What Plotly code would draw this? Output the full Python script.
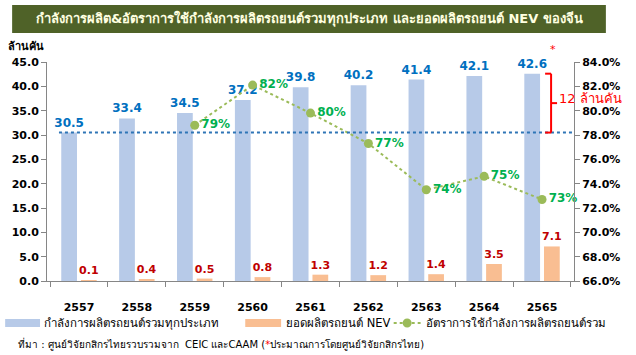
import plotly.graph_objects as go

years = ["2557", "2558", "2559", "2560", "2561", "2562", "2563", "2564", "2565"]
capacity = [30.5, 33.4, 34.5, 37.2, 39.8, 40.2, 41.4, 42.1, 42.6]
nev = [0.1, 0.4, 0.5, 0.8, 1.3, 1.2, 1.4, 3.5, 7.1]
utilization = [None, None, 78.8, 82.1, 79.8, 77.3, 73.5, 74.6, 72.7]

name_cap = "กำลังการผลิตรถยนต์รวมทุกประเภท"
name_nev = "ยอดผลิตรถยนต์ NEV"
name_util = "อัตราการใช้กำลังการผลิตรถยนต์รวม"
title_text = "กำลังการผลิต&อัตราการใช้กำลังการผลิตรถยนต์รวมทุกประเภท และยอดผลิตรถยนต์ NEV ของจีน"
source_text = "ที่มา : ศูนย์วิจัยกสิกรไทยรวบรวมจาก  CEIC และCAAM (<span style='color:#FF0000'>*</span>ประมาณการโดยศูนย์วิจัยกสิกรไทย)"
unit_text = "ล้านคัน"
gap_text = "12 ล้านคัน"

W, H = 636, 355
L, R, T, B = 45, 62, 62, 74
PW, PH = W - L - R, H - T - B

def xp(px):
    return (px - L) / PW

def yp(py):
    return (H - B - py) / PH

FONT = "Tahoma, Verdana, 'DejaVu Sans', 'Noto Sans', sans-serif"
C_BLUE = "#B7CAE8"
C_ORANGE = "#F9BE92"
C_GREEN = "#9BBB59"

fig = go.Figure()
fig.add_trace(go.Bar(
    x=years, y=capacity, name=name_cap,
    marker=dict(color=C_BLUE, line=dict(width=0)),
    text=capacity, texttemplate="%{y:.1f}", textposition="outside", constraintext="none",
    textfont=dict(color="#0070C0", size=12, family=FONT, weight="bold"),
    cliponaxis=False,
))
fig.add_trace(go.Bar(
    x=years, y=nev, name=name_nev,
    marker=dict(color=C_ORANGE, line=dict(width=0)),
    text=nev, texttemplate="%{y:.1f}", textposition="outside", constraintext="none",
    textfont=dict(color="#C00000", size=11, family=FONT, weight="bold"),
    cliponaxis=False,
))
fig.add_trace(go.Scatter(
    x=years, y=utilization, name=name_util, yaxis="y2",
    mode="lines+markers+text",
    line=dict(color=C_GREEN, width=2, dash="dot"),
    marker=dict(color=C_GREEN, size=9),
    texttemplate="%{y:.0f}%", textposition="middle right",
    textfont=dict(color="#00B050", size=12, family=FONT, weight="bold"),
    cliponaxis=False,
))

mid_gap = (capacity[0] + capacity[-1]) / 2
red = dict(color="#FF0000", width=2)
shapes = [
    dict(type="rect", xref="paper", yref="paper", x0=xp(10), x1=xp(606), y0=yp(33), y1=yp(5),
         fillcolor="#4F6228", line=dict(width=0), layer="below"),
    dict(type="line", xref="paper", yref="y", x0=xp(57), x1=1, y0=capacity[0], y1=capacity[0],
         line=dict(color="#2E75B6", width=2, dash="dot")),
    dict(type="line", xref="paper", yref="y", x0=xp(551), x1=xp(551), y0=capacity[0], y1=capacity[-1], line=red),
    dict(type="line", xref="paper", yref="y", x0=xp(545), x1=xp(551), y0=capacity[-1], y1=capacity[-1], line=red),
    dict(type="line", xref="paper", yref="y", x0=xp(545), x1=xp(551), y0=capacity[0], y1=capacity[0], line=red),
    dict(type="line", xref="paper", yref="y", x0=xp(551), x1=xp(557), y0=mid_gap, y1=mid_gap, line=red),
    # custom legend swatches
    dict(type="rect", xref="paper", yref="paper", x0=xp(3), x1=xp(38), y0=yp(327), y1=yp(319),
         fillcolor=C_BLUE, line=dict(width=0)),
    dict(type="rect", xref="paper", yref="paper", x0=xp(244), x1=xp(280), y0=yp(327), y1=yp(319),
         fillcolor=C_ORANGE, line=dict(width=0)),
    dict(type="line", xref="paper", yref="paper", x0=xp(393), x1=xp(420), y0=yp(323), y1=yp(323),
         line=dict(color=C_GREEN, width=2, dash="dot")),
    dict(type="circle", xref="paper", yref="paper", x0=xp(402), x1=xp(411), y0=yp(327.5), y1=yp(318.5),
         fillcolor=C_GREEN, line=dict(width=0)),
]

LEG_FONT = dict(color="#000000", size=11.5, family=FONT)
annotations = [
    dict(text=title_text, xref="paper", yref="paper", x=xp(308), y=yp(19), showarrow=False,
         font=dict(color="#FFFFE0", size=13, family=FONT, weight="bold"), xanchor="center", yanchor="middle"),
    dict(text=unit_text, xref="paper", yref="paper", x=xp(4), y=yp(47), showarrow=False,
         font=dict(color="#000000", size=11, family=FONT, weight="bold"), xanchor="left", yanchor="middle"),
    dict(text="*", xref="paper", yref="paper", x=xp(553), y=yp(49), showarrow=False,
         font=dict(color="#FF0000", size=11, family=FONT), xanchor="center", yanchor="middle"),
    dict(text=gap_text, xref="paper", yref="y", x=xp(557), y=mid_gap + 1.0, showarrow=False,
         font=dict(color="#FF0000", size=13, family=FONT), xanchor="left", yanchor="middle"),
    dict(text=source_text, xref="paper", yref="paper", x=xp(14), y=yp(344), showarrow=False,
         font=dict(color="#000000", size=10, family=FONT), xanchor="left", yanchor="middle"),
    dict(text=name_cap, xref="paper", yref="paper", x=xp(40), y=yp(323), showarrow=False,
         font=LEG_FONT, xanchor="left", yanchor="middle"),
    dict(text=name_nev, xref="paper", yref="paper", x=xp(283), y=yp(323), showarrow=False,
         font=LEG_FONT, xanchor="left", yanchor="middle"),
    dict(text=name_util, xref="paper", yref="paper", x=xp(423), y=yp(323), showarrow=False,
         font=LEG_FONT, xanchor="left", yanchor="middle"),
]

fig.update_layout(
    width=W, height=H,
    margin=dict(l=L, r=R, t=T, b=B),
    paper_bgcolor="#FFFFFF", plot_bgcolor="#FFFFFF",
    barmode="group", bargap=0.32, bargroupgap=0.2,
    font=dict(family=FONT, color="#000000"),
    showlegend=False,
    xaxis=dict(type="category", showline=True, linecolor="#868686", linewidth=1,
               ticks="outside", ticklen=5, tickcolor="#868686", tickson="boundaries",
               ticklabelstandoff=16,
               tickfont=dict(size=11, family=FONT, weight="bold", color="#000000"),
               showgrid=False, zeroline=False),
    yaxis=dict(range=[0, 45], dtick=5, tickformat=".1f", showline=True, linecolor="#868686",
               ticks="outside", ticklen=5, tickcolor="#868686", showgrid=False, zeroline=False,
               tickfont=dict(size=11, family=FONT, weight="bold", color="#000000")),
    yaxis2=dict(range=[66, 84], dtick=2, tickformat=".1f", ticksuffix="%", overlaying="y", side="right",
                showline=True, linecolor="#868686", ticks="outside", ticklen=5, tickcolor="#868686",
                showgrid=False, zeroline=False,
                tickfont=dict(size=11, family=FONT, weight="bold", color="#000000")),
    shapes=shapes,
    annotations=annotations,
)

fig.write_html("out.html", config={"displayModeBar": False},
               post_script="document.body.style.margin='0';document.body.style.padding='0';")
